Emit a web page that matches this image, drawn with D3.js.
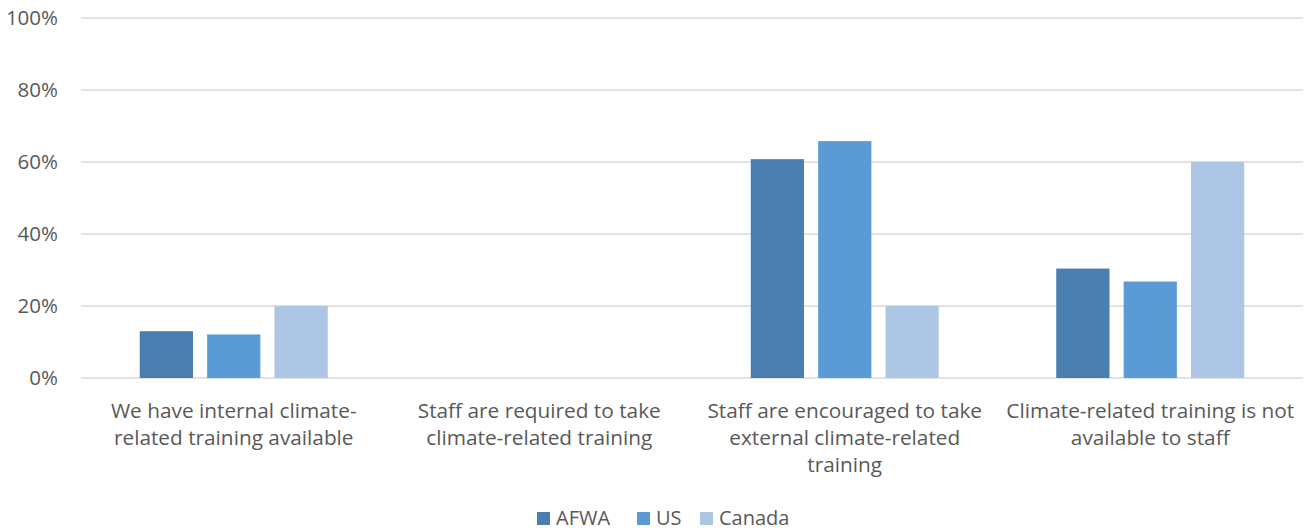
<!DOCTYPE html>
<html>
<head>
<meta charset="utf-8">
<script src="https://cdn.jsdelivr.net/npm/d3@7"></script>
<style>
  body { margin: 0; background: #fff; }
  svg text { font-family: "Open Sans", sans-serif; fill: #595959; }
</style>
</head>
<body>
<div id="chart"></div>
<script>
// chart data
var categories = [
  ["We have internal climate-", "related training available"],
  ["Staff are required to take", "climate-related training"],
  ["Staff are encouraged to take", "external climate-related", "training"],
  ["Climate-related training is not", "available to staff"]
];
var series = ["AFWA", "US", "Canada"];
var afwa = [0.13, 0, 0.608, 0.304];
var us = [0.121, 0, 0.658, 0.268];
var canada = [0.20, 0, 0.20, 0.60];
var yTicks = [0, 0.2, 0.4, 0.6, 0.8, 1.0];
var colors = ["#4a7eae", "#5b9bd5", "#adc6e5"];

var width = 1312, height = 531;
var margin = {top: 18, right: 9, bottom: 153, left: 81};

var svg = d3.select("#chart").append("svg")
    .attr("width", width).attr("height", height);

var x0 = d3.scaleBand()
    .domain(d3.range(categories.length))
    .range([margin.left, width - margin.right]);

var y = d3.scaleLinear()
    .domain([0, 1])
    .range([height - margin.bottom, margin.top]);

// gridlines
svg.append("g")
    .selectAll("line")
    .data(yTicks)
    .enter().append("line")
    .attr("x1", margin.left)
    .attr("x2", width - margin.right)
    .attr("y1", function(d){ return y(d); })
    .attr("y2", function(d){ return y(d); })
    .style("stroke", "#d9d9d9")
    .style("stroke-width", "1.3px");

// y labels
svg.append("g")
    .selectAll("text")
    .data(yTicks)
    .enter().append("text")
    .attr("x", 58)
    .attr("y", function(d){ return y(d) + 7; })
    .attr("text-anchor", "end")
    .style("font-size", "20.5px")
    .text(d3.format(".0%"));

var values = [afwa, us, canada];
var groupSpan = 188;

var groups = svg.append("g")
    .selectAll("g")
    .data(categories)
    .enter().append("g");

groups.each(function(c, i){
  var cx = x0(i) + x0.bandwidth() / 2;
  var x1 = d3.scaleBand()
      .domain(series)
      .range([cx - groupSpan / 2, cx + groupSpan / 2])
      .paddingInner(0.21);

  d3.select(this).selectAll("rect")
      .data(series)
      .enter().append("rect")
      .attr("x", function(s){ return x1(s); })
      .attr("width", x1.bandwidth())
      .attr("y", function(s, j){ return y(values[j][i]); })
      .attr("height", function(s, j){ return y(0) - y(values[j][i]); })
      .style("fill", function(s, j){ return colors[j]; });

  var label = d3.select(this).append("text")
      .attr("text-anchor", "middle")
      .style("font-size", "20.8px");
  label.selectAll("tspan")
      .data(c)
      .enter().append("tspan")
      .attr("x", cx)
      .attr("y", function(d, k){ return 418 + k * 27; })
      .text(function(d){ return d; });
});

// legend
var legendX = [537, 637, 700];
var legend = svg.append("g")
    .selectAll("g")
    .data(series)
    .enter().append("g")
    .attr("transform", function(d, i){ return "translate(" + legendX[i] + ",512)"; });

legend.append("rect")
    .attr("width", 13).attr("height", 13)
    .style("fill", function(d, i){ return colors[i]; });

legend.append("text")
    .attr("x", 19)
    .attr("y", 13)
    .style("font-size", "20px")
    .text(function(d){ return d; });
</script>
</body>
</html>
